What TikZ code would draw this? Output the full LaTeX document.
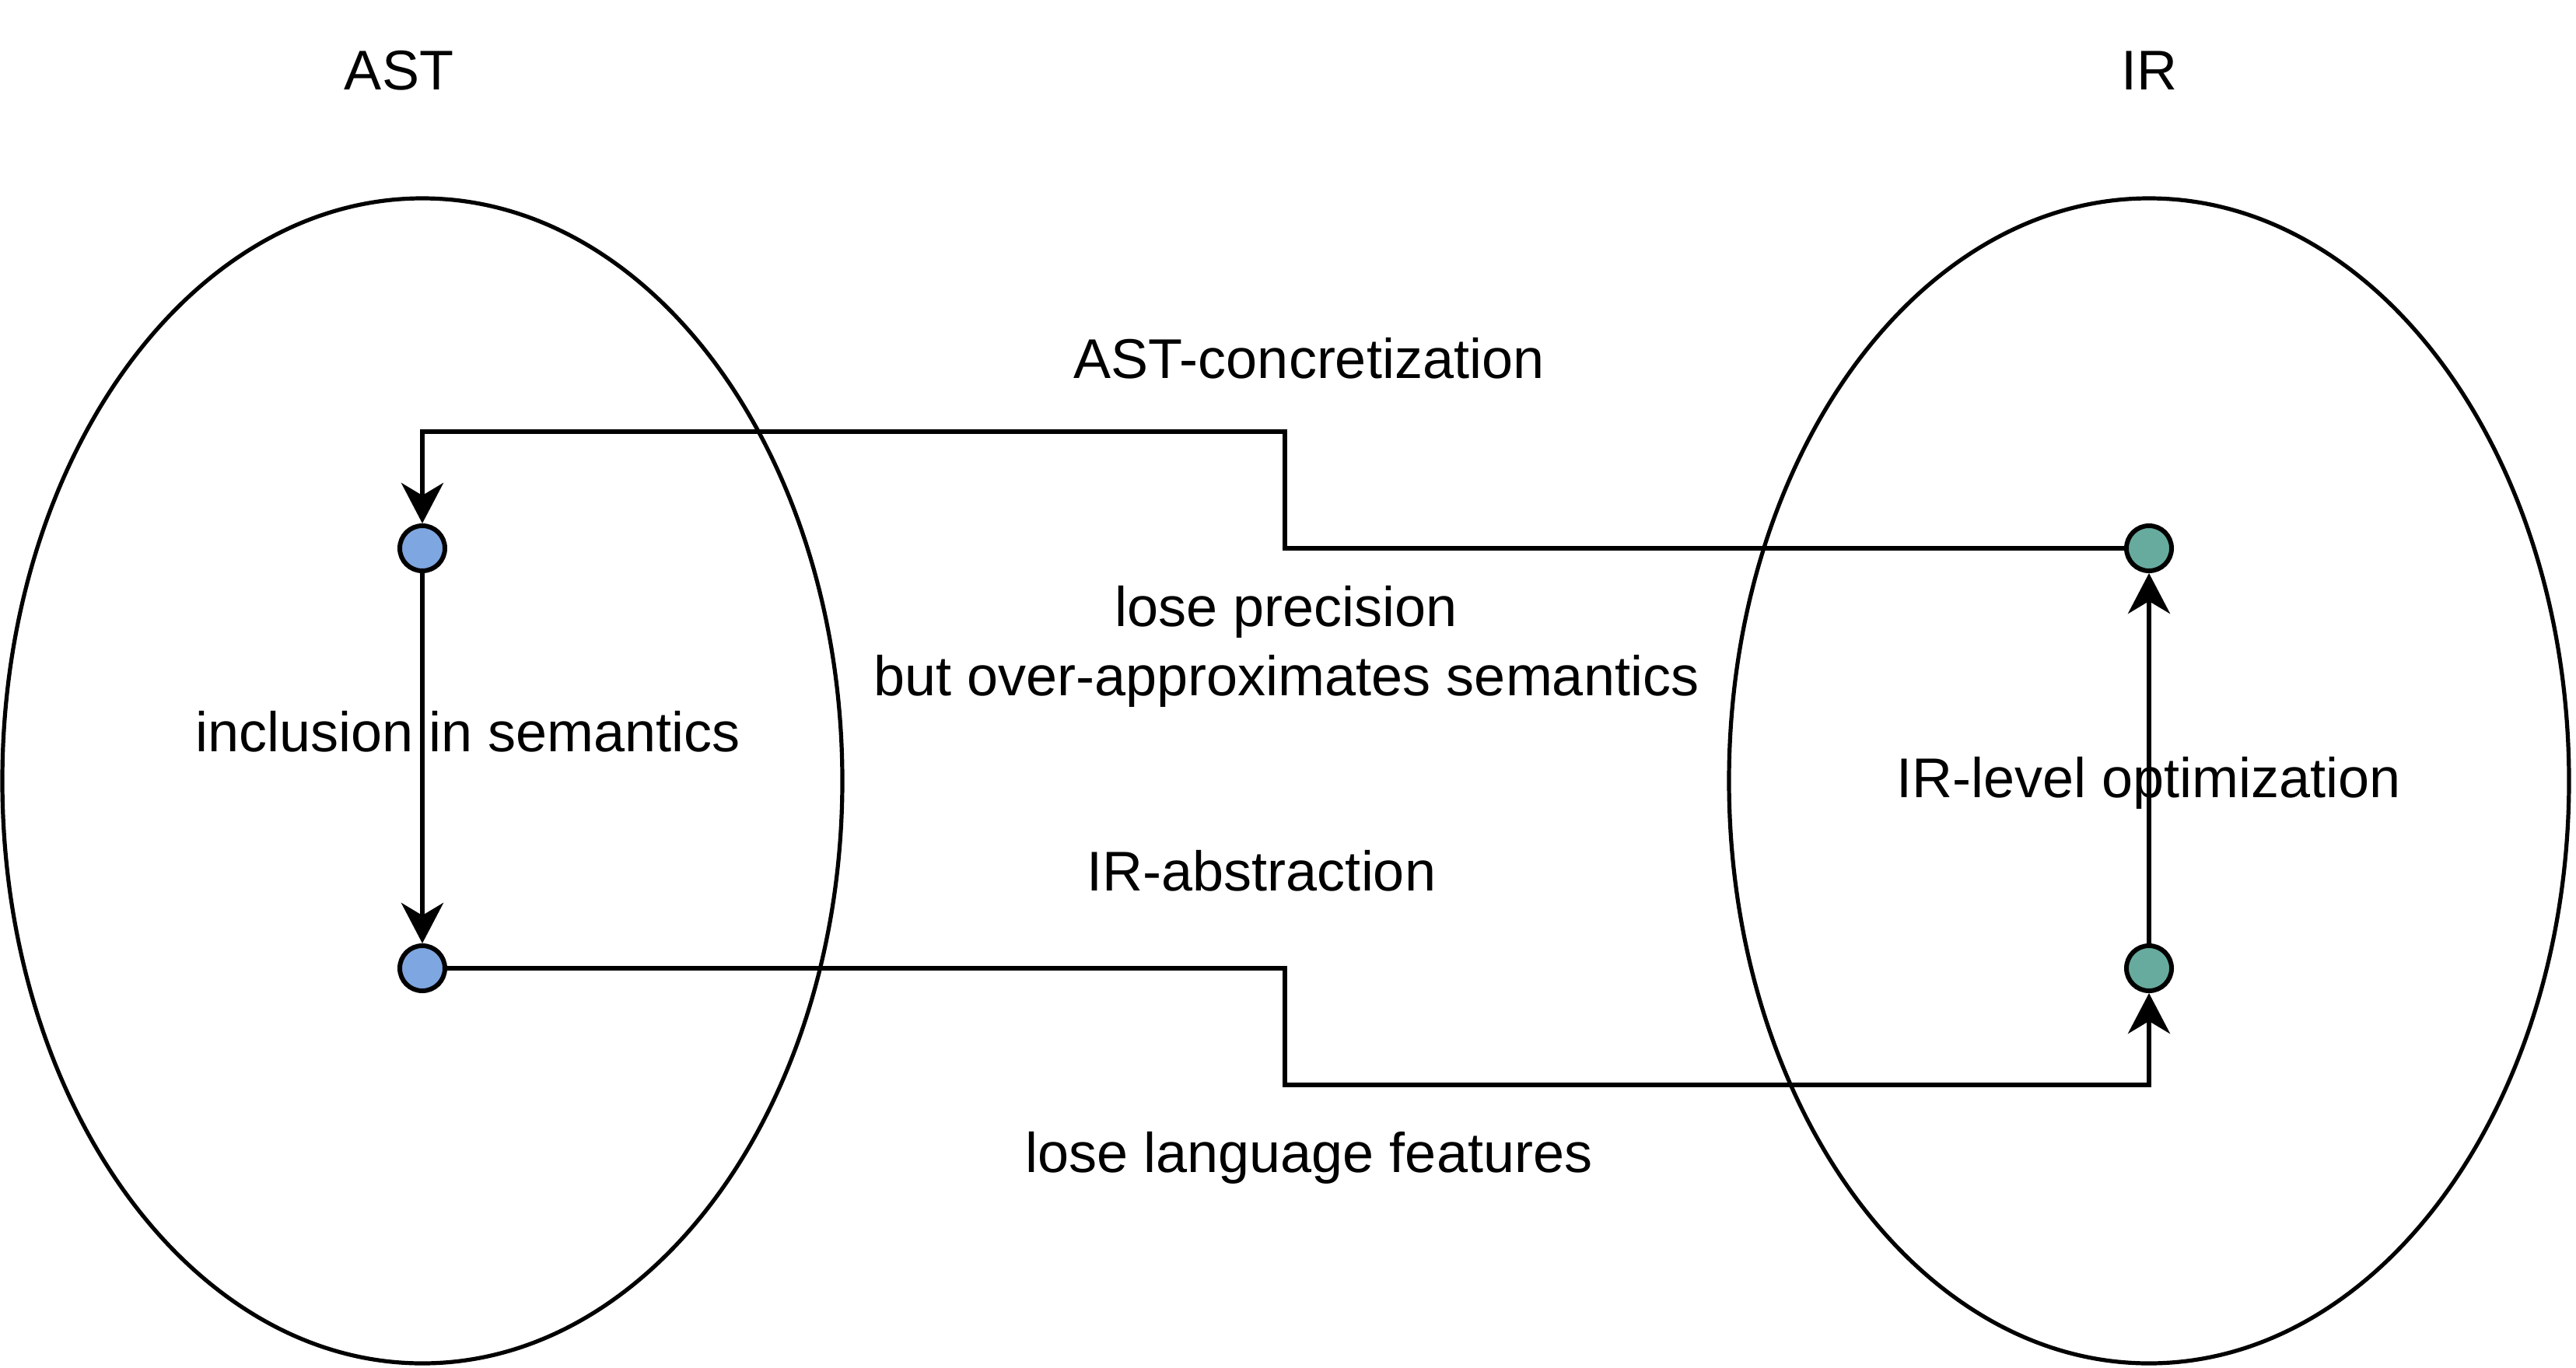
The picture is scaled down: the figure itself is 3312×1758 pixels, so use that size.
\documentclass[tikz,border=0pt]{standalone}
\usepackage{fontspec}
\setmainfont{Liberation Sans}
\usetikzlibrary{arrows.meta}
\definecolor{astblue}{HTML}{7EA6E0}
\definecolor{irteal}{HTML}{67AB9F}
\begin{document}
\begin{tikzpicture}[x=0.25pt,y=-0.25pt,
  lbl/.style={font=\fontsize{18pt}{21.6pt}\selectfont, inner sep=0pt, anchor=base},
  dot/.style={circle, draw=black, line width=1.5pt, minimum size=14.5pt, inner sep=0pt},
  region/.style={draw=black, line width=1.3pt},
  arr/.style={draw=black, line width=1.5pt, -{Stealth[length=13pt,width=13.5pt,inset=4pt]}}]
\useasboundingbox (0,0) rectangle (3312,1758);
\fill[white] (0,0) rectangle (3312,1758);
% regions
\draw[region] (543,1004) ellipse [x radius=540, y radius=749];
\draw[region] (2763,1004) ellipse [x radius=540, y radius=749];
% titles
\node[lbl] (tast) at (513,115) {AST};
\node[lbl] (tir) at (2763,115) {IR};
% points
\node[dot, fill=astblue] (ast1) at (543,705) {};
\node[dot, fill=astblue] (ast2) at (543,1245) {};
\node[dot, fill=irteal] (ir1) at (2763,705) {};
\node[dot, fill=irteal] (ir2) at (2763,1245) {};
\coordinate (k1) at (1652,555);
\coordinate (k2) at (1652,1395);
% connectors
\draw[arr] (ir1) -| (k1) -| (ast1);
\draw[arr] (ast2) -| (k2) -| (ir2);
\draw[arr] (ast1) -- (ast2);
\draw[arr] (ir2) -- (ir1);
% labels
\node[lbl] (lconc) at (1683,486) {AST-concretization};
\node[lbl] (lprec1) at (1654,805) {lose precision};
\node[lbl] (lprec2) at (1654,894) {but over-approximates semantics};
\node[lbl] (lincl) at (602,966) {inclusion in semantics};
\node[lbl] (labs) at (1622,1145) {IR-abstraction};
\node[lbl] (lopt) at (2763,1025) {IR-level optimization};
\node[lbl] (lfeat) at (1683,1507) {lose language features};
\end{tikzpicture}
\end{document}
